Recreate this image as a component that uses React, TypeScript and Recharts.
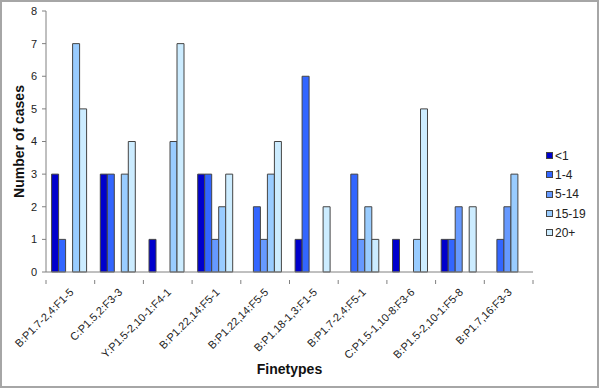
import React from 'react';
import { BarChart, Bar, XAxis, YAxis, Label } from 'recharts';

const categories = [
  'B:P1.7-2,4:F1-5',
  'C:P1.5,2:F3-3',
  'Y:P1.5-2,10-1:F4-1',
  'B:P1.22,14:F5-1',
  'B:P1.22,14:F5-5',
  'B:P1.18-1,3:F1-5',
  'B:P1.7-2,4:F5-1',
  'C:P1.5-1,10-8:F3-6',
  'B:P1.5-2,10-1:F5-8',
  'B:P1.7,16:F3-3',
];
const lt1 = [3, 3, 1, 3, 0, 1, 0, 1, 1, 0];
const age1to4 = [1, 3, 0, 3, 2, 6, 3, 0, 1, 1];
const age5to14 = [0, 0, 0, 1, 1, 0, 1, 0, 2, 2];
const age15to19 = [7, 3, 4, 2, 3, 0, 2, 1, 0, 3];
const age20plus = [5, 4, 7, 3, 4, 2, 1, 5, 2, 0];
const yTicks = [0, 1, 2, 3, 4, 5, 6, 7, 8];

const seriesDefs = [
  { key: 'lt1', name: '<1', color: '#0000CC', values: lt1 },
  { key: 'a1', name: '1-4', color: '#3366FF', values: age1to4 },
  { key: 'a5', name: '5-14', color: '#6699FF', values: age5to14 },
  { key: 'a15', name: '15-19', color: '#99CCFF', values: age15to19 },
  { key: 'a20', name: '20+', color: '#CCECFF', values: age20plus },
];

const data = categories.map((c, i) => {
  const row: any = { name: c };
  seriesDefs.forEach((s) => {
    row[s.key] = s.values[i];
  });
  return row;
});

const FONT = '"Liberation Sans", Arial, sans-serif';
const AXIS = '#808080';

const XTick = (props: any) => {
  const { x, y, payload, index, visibleTicksCount } = props;
  const half = payload && payload.offset ? payload.offset : 24.35;
  const last = index === (visibleTicksCount || categories.length) - 1;
  return (
    <g>
      <line x1={x - half} y1={y} x2={x - half} y2={y + 4} stroke={AXIS} strokeWidth={1} />
      {last && <line x1={x + half} y1={y} x2={x + half} y2={y + 4} stroke={AXIS} strokeWidth={1} />}
      <text
        x={x + 4}
        y={y + 13}
        textAnchor="end"
        transform={`rotate(-45, ${x + 4}, ${y + 13})`}
        fontSize={11}
        fontFamily={FONT}
        fill="#222"
      >
        {payload.value}
      </text>
    </g>
  );
};

const LegendBox = () => (
  <div
    style={{
      position: 'absolute',
      left: 546,
      top: 146,
      fontFamily: FONT,
      fontSize: 12,
      color: '#222',
      zIndex: 1,
    }}
  >
    {seriesDefs.map((s) => (
      <div key={s.key} style={{ display: 'flex', alignItems: 'center', height: 19.3 }}>
        <span
          style={{
            display: 'inline-block',
            width: 5,
            height: 5,
            background: s.color,
            border: '1px solid #444',
            marginRight: 2,
          }}
        />
        <span>{s.name}</span>
      </div>
    ))}
  </div>
);

export default function App() {
  return (
    <div
      style={{
        position: 'absolute',
        left: 0,
        top: 0,
        width: 599,
        height: 388,
        background: '#fff',
      }}
    >
      <div
        style={{
          position: 'absolute',
          left: 0,
          top: 0,
          width: 599,
          height: 388,
          boxSizing: 'border-box',
          border: '2px solid #a6a6a6',
          pointerEvents: 'none',
          zIndex: 2,
        }}
      />
      <LegendBox />
      <BarChart
        width={599}
        height={388}
        data={data}
        margin={{ top: 11, right: 66, bottom: 0, left: 0 }}
        barCategoryGap="11.5%"
        barGap={0}
      >
        <XAxis
          dataKey="name"
          interval={0}
          height={116}
          stroke={AXIS}
          tickLine={false}
          tick={<XTick />}
        >
          <Label
            content={(p: any) => {
              const vb = p.viewBox;
              return (
                <text
                  x={vb.x + vb.width / 2}
                  y={374}
                  textAnchor="middle"
                  fontSize={14}
                  fontWeight="bold"
                  fontFamily={FONT}
                  fill="#111"
                >
                  Finetypes
                </text>
              );
            }}
          />
        </XAxis>
        <YAxis
          width={46}
          domain={[0, 8]}
          ticks={yTicks}
          interval={0}
          stroke={AXIS}
          tickSize={4}
          tickMargin={5}
          tick={{ fontSize: 11, fontFamily: FONT, fill: '#222' }}
        >
          <Label
            content={(p: any) => {
              const vb = p.viewBox;
              const cx = 19;
              const cy = vb.y + vb.height / 2;
              return (
                <text
                  x={cx}
                  y={cy}
                  textAnchor="middle"
                  dominantBaseline="central"
                  transform={`rotate(-90, ${cx}, ${cy})`}
                  fontSize={14}
                  fontWeight="bold"
                  fontFamily={FONT}
                  fill="#111"
                >
                  Number of cases
                </text>
              );
            }}
          />
        </YAxis>
        {seriesDefs.map((s) => (
          <Bar
            key={s.key}
            dataKey={s.key}
            name={s.name}
            fill={s.color}
            stroke="#444"
            strokeWidth={1}
            isAnimationActive={false}
          />
        ))}
      </BarChart>
    </div>
  );
}
